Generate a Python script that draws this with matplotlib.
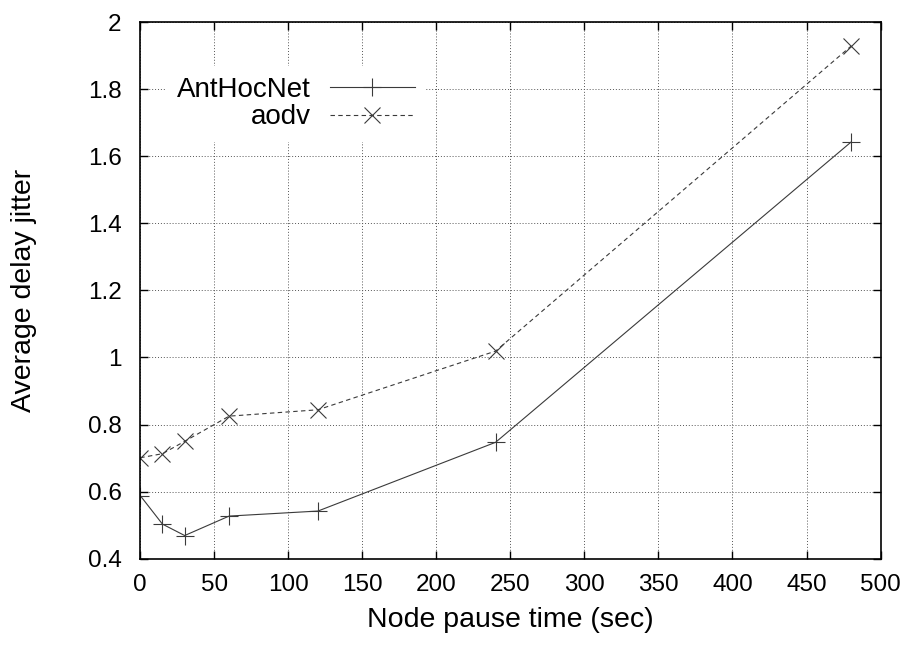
import numpy as np
import matplotlib
matplotlib.use('Agg')
import matplotlib.pyplot as plt
from matplotlib.ticker import FormatStrFormatter

# node pause time (sec)
pause_time = [0, 15, 30, 60, 120, 240, 480]
# average delay jitter
anthocnet = [0.588, 0.503, 0.469, 0.527, 0.542, 0.747, 1.642]
aodv = [0.701, 0.713, 0.750, 0.825, 0.844, 1.019, 1.928]

x_ticks = [0, 50, 100, 150, 200, 250, 300, 350, 400, 450, 500]
y_ticks = [0.4, 0.6, 0.8, 1.0, 1.2, 1.4, 1.6, 1.8, 2.0]

plt.rcParams['font.family'] = ['Liberation Sans', 'DejaVu Sans']
plt.rcParams['font.size'] = 17.5

fig = plt.figure(figsize=(9.12, 6.5), dpi=100)
ax = fig.add_axes([0.1538, 0.1405, 0.9655 - 0.1538, 0.966 - 0.1405])

line_col = '#3a3a3a'
ax.plot(pause_time, anthocnet, color=line_col, lw=0.8, marker='+',
        markersize=12.5, markeredgewidth=0.8, label='AntHocNet')
ax.plot(pause_time, aodv, color=line_col, lw=0.8, linestyle=(0, (4, 3)), marker='x',
        markersize=11, markeredgewidth=0.8, label='aodv')

ax.set_xlim(0, 500)
ax.set_ylim(0.4, 2.0)
ax.set_xticks(x_ticks)
ax.set_yticks(y_ticks)
ax.yaxis.set_major_formatter(FormatStrFormatter('%g'))

ax.grid(True, color='#555555', linestyle=(0, (1, 2)), linewidth=0.7)
ax.set_axisbelow(True)

ax.tick_params(direction='in', length=6, width=1.0, top=True, right=True)
ax.tick_params(axis='x', pad=11)
ax.tick_params(axis='y', pad=13.5)
for s in ax.spines.values():
    s.set_linewidth(1.2)

ax.set_xlabel('Node pause time (sec)', fontsize=20.5, va='top')
ax.xaxis.set_label_coords(0.5, -0.09)
ax.set_ylabel('Average delay jitter', fontsize=20.5, va='center')
ax.yaxis.set_label_coords(-0.157, 0.5)

leg = ax.legend(loc='upper left', bbox_to_anchor=(166 / 912, 1 - 66 / 650),
                bbox_transform=fig.transFigure, markerfirst=False, fontsize=20,
                handlelength=3.06, handletextpad=0.68, labelspacing=0.05,
                borderpad=0.4, borderaxespad=0, fancybox=False, framealpha=1)
leg.get_frame().set_edgecolor('none')
leg.get_frame().set_facecolor('white')
for t in leg.get_texts():
    t.set_horizontalalignment('right')
leg._legend_box.align = 'right'

fig.savefig('out.png', dpi=100)
